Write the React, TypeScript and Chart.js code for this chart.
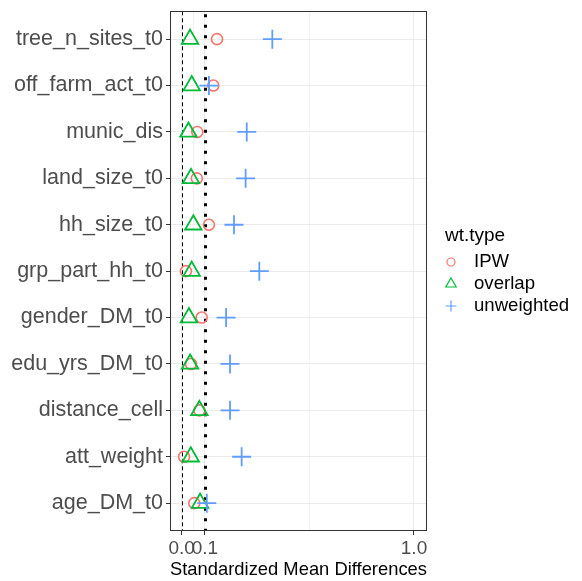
import React, { useEffect, useRef } from 'react';
import { Chart, registerables } from 'chart.js';

Chart.register(...registerables);

// ---- Data (top to bottom) ----
const categories = [
  'tree_n_sites_t0',
  'off_farm_act_t0',
  'munic_dis',
  'land_size_t0',
  'hh_size_t0',
  'grp_part_hh_t0',
  'gender_DM_t0',
  'edu_yrs_DM_t0',
  'distance_cell',
  'att_weight',
  'age_DM_t0',
];
const ipwValues = [0.152, 0.136, 0.067, 0.065, 0.117, 0.018, 0.086, 0.04, 0.076, 0.01, 0.054];
const overlapValues = [0.036, 0.043, 0.029, 0.04, 0.05, 0.043, 0.031, 0.036, 0.076, 0.039, 0.079];
const unweightedValues = [0.39, 0.117, 0.28, 0.275, 0.225, 0.334, 0.191, 0.208, 0.208, 0.258, 0.108];

const xMajorTicks = [0, 0.1, 1.0];
const xMinorTicks = [0.05, 0.55];
const xTickLabels = ['0.0', '0.1', '1.0'];
const zeroLine = 0;
const thresholdLine = 0.1;

const seriesNames = ['IPW', 'overlap', 'unweighted'];
const seriesColors = ['#F8766D', '#00BA38', '#619CFF'];
const legendTitle = 'wt.type';
const xTitle = 'Standardized Mean Differences';

const FONT = "'Liberation Sans', Arial, sans-serif";

const refLinesPlugin = {
  id: 'refLines',
  beforeDatasetsDraw(chart: any) {
    const { ctx, chartArea, scales } = chart;
    const x = scales.x;
    ctx.save();
    const x0 = Math.round(x.getPixelForValue(zeroLine)) + 0.5;
    ctx.strokeStyle = '#000';
    ctx.lineWidth = 1;
    ctx.setLineDash([4, 3]);
    ctx.beginPath();
    ctx.moveTo(x0, chartArea.top);
    ctx.lineTo(x0, chartArea.bottom);
    ctx.stroke();
    const x1 = Math.round(x.getPixelForValue(thresholdLine)) + 0.5;
    ctx.lineWidth = 3;
    ctx.setLineDash([3, 7.5]);
    ctx.beginPath();
    ctx.moveTo(x1, chartArea.top + 3);
    ctx.lineTo(x1, chartArea.bottom);
    ctx.stroke();
    ctx.restore();
  },
  afterDraw(chart: any) {
    const { ctx, chartArea } = chart;
    ctx.save();
    ctx.strokeStyle = '#333333';
    ctx.lineWidth = 1;
    ctx.setLineDash([]);
    ctx.strokeRect(
      Math.round(chartArea.left) + 0.5,
      Math.round(chartArea.top) + 0.5,
      Math.round(chartArea.right - chartArea.left) - 1,
      Math.round(chartArea.bottom - chartArea.top) - 1
    );
    // legend
    ctx.fillStyle = '#000';
    ctx.textBaseline = 'middle';
    ctx.textAlign = 'left';
    ctx.font = `19px ${FONT}`;
    ctx.fillText(legendTitle, 445, 236);
    const ys = [262, 284, 306];
    const sx = 451;
    ctx.font = `18.6px ${FONT}`;
    seriesNames.forEach((name, i) => {
      const y = ys[i];
      ctx.strokeStyle = seriesColors[i];
      ctx.lineWidth = 1.2;
      ctx.beginPath();
      if (i === 0) {
        ctx.arc(sx, y, 4, 0, Math.PI * 2);
      } else if (i === 1) {
        const r = 6;
        ctx.moveTo(sx, y - r);
        ctx.lineTo(sx + Math.sin((2 * Math.PI) / 3) * r, y + r / 2);
        ctx.lineTo(sx - Math.sin((2 * Math.PI) / 3) * r, y + r / 2);
        ctx.closePath();
      } else {
        ctx.moveTo(sx - 5.5, y);
        ctx.lineTo(sx + 5.5, y);
        ctx.moveTo(sx, y - 5.5);
        ctx.lineTo(sx, y + 5.5);
      }
      ctx.stroke();
      ctx.fillStyle = '#000';
      ctx.fillText(name, 474, y);
    });
    ctx.restore();
  },
};

export default function App() {
  const ref = useRef<HTMLCanvasElement | null>(null);

  useEffect(() => {
    if (!ref.current) return;
    const mk = (vals: number[]) => vals.map((v, i) => ({ x: v, y: i }));
    const chart = new Chart(ref.current, {
      type: 'scatter',
      data: {
        datasets: [
          {
            label: seriesNames[0],
            data: mk(ipwValues),
            pointStyle: 'circle',
            pointRadius: 5.5,
            borderColor: seriesColors[0],
            backgroundColor: 'rgba(0,0,0,0)',
            borderWidth: 1.6,
            order: 3,
          },
          {
            label: seriesNames[1],
            data: mk(overlapValues),
            pointStyle: 'triangle',
            pointRadius: 9.5,
            borderColor: seriesColors[1],
            backgroundColor: 'rgba(0,0,0,0)',
            borderWidth: 1.8,
            order: 2,
          },
          {
            label: seriesNames[2],
            data: mk(unweightedValues),
            pointStyle: 'cross',
            pointRadius: 9.5,
            borderColor: seriesColors[2],
            backgroundColor: 'rgba(0,0,0,0)',
            borderWidth: 1.8,
            order: 1,
          },
        ],
      },
      options: {
        animation: false,
        responsive: false,
        events: [],
        layout: { padding: { left: 0, right: 155, top: 8, bottom: 0 } },
        plugins: { legend: { display: false }, tooltip: { enabled: false } },
        scales: {
          x: {
            type: 'linear',
            min: -0.0505,
            max: 1.056,
            afterBuildTicks: (s: any) => {
              s.ticks = [...xMajorTicks, ...xMinorTicks]
                .sort((a, b) => a - b)
                .map((v) => ({ value: v }));
            },
            afterFit: (s: any) => {
              s.height = 50;
              s.paddingLeft = 0;
              s.paddingRight = 0;
            },
            ticks: {
              autoSkip: false,
              maxRotation: 0,
              padding: 2,
              color: '#4D4D4D',
              font: { family: FONT, size: 19 },
              callback: (v: any) => {
                const idx = xMajorTicks.findIndex((t) => Math.abs(t - Number(v)) < 1e-9);
                return idx >= 0 ? xTickLabels[idx] : '';
              },
            },
            grid: {
              color: (c: any) =>
                xMinorTicks.some((t) => Math.abs(t - c.tick?.value) < 1e-9) ? '#F2F2F2' : '#EBEBEB',
              lineWidth: 1,
              tickLength: 4,
              tickColor: (c: any) =>
                xMinorTicks.some((t) => Math.abs(t - c.tick?.value) < 1e-9) ? 'rgba(0,0,0,0)' : '#333333',
            },
            border: { display: false },
            title: {
              display: true,
              text: xTitle,
              color: '#000',
              font: { family: FONT, size: 19 },
              padding: { top: 0, bottom: 0 },
            },
          },
          y: {
            type: 'linear',
            min: -0.6,
            max: 10.6,
            reverse: true,
            afterBuildTicks: (s: any) => {
              s.ticks = categories.map((_, i) => ({ value: i }));
            },
            afterFit: (s: any) => {
              s.width = 170;
              s.paddingTop = 0;
              s.paddingBottom = 0;
            },
            ticks: {
              autoSkip: false,
              padding: 3,
              color: '#4D4D4D',
              font: { family: FONT, size: 21.5 },
              callback: (v: any) => categories[Number(v)] ?? '',
            },
            grid: {
              color: '#EBEBEB',
              lineWidth: 1,
              tickLength: 4,
              tickColor: '#333333',
            },
            border: { display: false },
          },
        },
      },
      plugins: [refLinesPlugin],
    } as any);
    return () => chart.destroy();
  }, []);

  return (
    <div style={{ position: 'fixed', left: 0, top: 0, width: 582, height: 581, background: '#fff' }}>
      <canvas ref={ref} width={582} height={581} style={{ display: 'block' }} />
    </div>
  );
}
